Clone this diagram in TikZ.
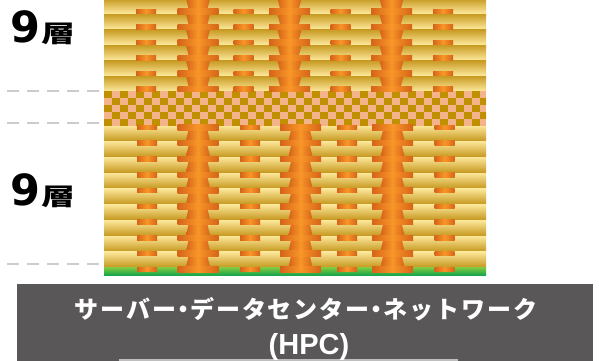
\documentclass[tikz,border=0pt]{standalone}
\usepackage{fontspec}
\newfontfamily\jpfont{Noto Sans CJK JP}
\newfontfamily\jpwide{Noto Sans CJK JP}[LetterSpace=8]
\newfontfamily\dvfont{DejaVu Sans}
\newfontfamily\lsfont{Liberation Sans}
\definecolor{golddark}{RGB}{196,150,28}
\definecolor{goldlight}{RGB}{252,230,152}
\definecolor{chkdark}{RGB}{192,144,0}
\definecolor{chklight}{RGB}{243,180,140}
\definecolor{viadark}{RGB}{214,100,24}
\definecolor{viabright}{RGB}{248,150,40}
\definecolor{greentop}{RGB}{122,200,67}
\definecolor{greenbot}{RGB}{26,166,74}
\definecolor{panel}{RGB}{89,87,87}
\definecolor{dashgray}{RGB}{204,204,204}
\definecolor{rulegray}{RGB}{190,190,190}
\newcommand{\layercount}{{\dvfont\bfseries\fontsize{43}{43}\selectfont 9}\kern1.5pt{\jpfont\bfseries\fontsize{26}{26}\selectfont\scalebox{1.3}[0.92]{層}}}
\newcommand{\ndot}{\kern-5pt・\kern-5pt}
\begin{document}
\begin{tikzpicture}[x=1pt,y=-1pt,
  viashade/.style={left color=viadark,right color=viadark,middle color=viabright},
  bandtop/.style={top color=golddark,bottom color=goldlight},
  bandbot/.style={top color=goldlight,bottom color=golddark},
  guide/.style={dashgray,line width=2pt,dash pattern=on 12pt off 8pt},
  layerlabel/.style={anchor=base west,inner sep=0pt,text=black}]
\useasboundingbox (0,0) rectangle (599,360);
\begin{scope}
\clip (0,0) rectangle (599,360);

% ---- upper stack: 9 layers, via pads at the bottom of each layer
\foreach \k in {0,...,5}{
  \pgfmathsetmacro\yb{90.7-15.5*\k}
  \pgfmathsetmacro\yt{\yb-15.5}
  \shade[bandtop] (104,\yt) rectangle (486,\yb);
}
% ---- lower stack
\foreach \k in {0,...,8}{
  \pgfmathsetmacro\yt{125.7+15.78*\k}
  \pgfmathsetmacro\yb{\yt+15.78}
  \shade[bandbot] (104,\yt) rectangle (486,\yb);
}
% ---- core (checkered)
\begin{scope}
\clip (104,90.7) rectangle (486,125.7);
\fill[chklight] (104,90.7) rectangle (486,125.7);
\foreach \r in {0,...,4}{
  \foreach \c in {0,...,47}{
    \pgfmathtruncatemacro\chkpar{mod(\r+\c,2)}
    \ifnum\chkpar=0
      \fill[chkdark] (104+8*\c,90.7+7*\r) rectangle (112+8*\c,97.7+7*\r);
    \fi
  }
}
\end{scope}
% ---- base
\shade[top color=greentop,bottom color=greenbot] (104,267.7) rectangle (486,275);

% ---- upper stacked vias (tapering downward)
\foreach \cx in {198,289.5,391.5}{
  \foreach \k in {0,...,5}{
    \pgfmathsetmacro\yb{90.7-15.5*\k}
    \pgfmathsetmacro\yt{\yb-15.5}
    \shade[viashade] (\cx-12,\yt+1) -- (\cx+12,\yt+1) -- (\cx+9.5,\yb-4.5) -- (\cx-9.5,\yb-4.5) -- cycle;
    \shade[viashade] (\cx-20.5,\yb-4.5) rectangle (\cx+20.5,\yb+1);
  }
}
\foreach \sx in {146,243.5,340.5,443}{
  \foreach \k in {0,...,5}{
    \pgfmathsetmacro\yb{90.7-15.5*\k}
    \shade[viashade] (\sx-10,\yb-4) rectangle (\sx+10,\yb+0.5);
  }
}
% ---- lower stacked vias (widening downward)
\foreach \cx in {198,300.5,392.5}{
  \foreach \k in {0,...,8}{
    \pgfmathsetmacro\yt{125.7+15.78*\k}
    \pgfmathsetmacro\yb{\yt+15.78}
    \shade[viashade] (\cx-9.5,\yt+4.5) -- (\cx+9.5,\yt+4.5) -- (\cx+12,\yb-1) -- (\cx-12,\yb-1) -- cycle;
  }
  \foreach \k in {0,...,9}{
    \pgfmathsetmacro\yt{125.7+15.78*\k}
    \shade[viashade] (\cx-20.5,\yt-1) rectangle (\cx+20.5,\yt+4.5);
  }
}
\foreach \sx in {147,250,347,444.5}{
  \foreach \k in {0,...,9}{
    \pgfmathsetmacro\yt{125.7+15.78*\k}
    \shade[viashade] (\sx-10,\yt-0.5) rectangle (\sx+10,\yt+4);
  }
}

% ---- guide lines
\draw[guide] (7.3,90.7) -- (100,90.7);
\draw[guide] (7.3,122.7) -- (100,122.7);
\draw[guide] (7.3,264.3) -- (100,264.3);

% ---- layer count labels
\node[layerlabel] (upper) at (10,42.5) {\layercount};
\node[layerlabel] (lower) at (10,205.5) {\layercount};

% ---- application panel
\fill[panel] (17.3,284) rectangle (593,362);
\fill[rulegray] (119,358.8) rectangle (458,361);
\node[anchor=base,inner sep=0pt,text=white] (app) at (306,318)
  {\jpwide\bfseries\fontsize{24}{24}\selectfont サーバー\ndot データセンター\ndot ネットワーク};
\node[anchor=base,inner sep=0pt,text=white] (hpc) at (309,354.5)
  {\lsfont\bfseries\fontsize{29}{29}\selectfont (HPC)};
\end{scope}
\end{tikzpicture}
\end{document}
